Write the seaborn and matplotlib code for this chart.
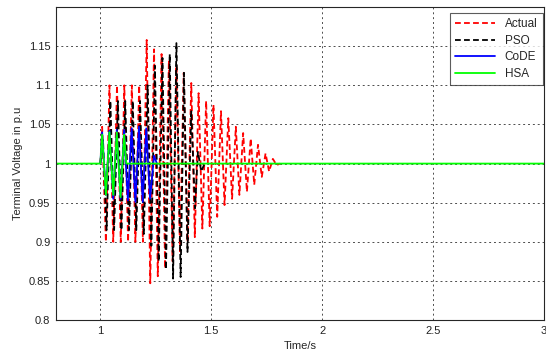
import numpy as np
import pandas as pd
import matplotlib
matplotlib.use("Agg")
import matplotlib.pyplot as plt
import seaborn as sns

# extrema of each response (time in s, voltage in p.u)
actual_t = [1.0, 1.008, 1.025, 1.041, 1.058, 1.075, 1.092, 1.108, 1.125, 1.142, 1.158,
            1.175, 1.192, 1.209, 1.225, 1.242, 1.259, 1.276, 1.292, 1.309, 1.326, 1.343,
            1.359, 1.376, 1.393, 1.410, 1.426, 1.443, 1.460, 1.477, 1.493, 1.510, 1.527,
            1.544, 1.560, 1.577, 1.594, 1.611, 1.627, 1.644, 1.661, 1.678, 1.694, 1.711,
            1.728, 1.745, 1.761, 1.778, 1.795, 1.81]
actual_v = [1.0, 1.047, 0.900, 1.100, 0.900, 1.100, 0.900, 1.100, 0.900, 1.100, 0.900,
            1.100, 0.900, 1.158, 0.847, 1.146, 0.856, 1.140, 0.866, 1.132, 0.875, 1.125,
            0.888, 1.116, 0.900, 1.103, 0.906, 1.090, 0.917, 1.080, 0.920, 1.075, 0.932,
            1.067, 0.947, 1.058, 0.955, 1.047, 0.960, 1.039, 0.964, 1.032, 0.973, 1.024,
            0.983, 1.013, 0.990, 1.006, 0.998, 1.0]

pso_t = [1.0, 1.012, 1.028, 1.045, 1.062, 1.079, 1.095, 1.112, 1.129, 1.146, 1.162,
         1.179, 1.196, 1.213, 1.230, 1.246, 1.263, 1.280, 1.296, 1.313, 1.328, 1.343,
         1.362, 1.377, 1.393, 1.410, 1.427, 1.440, 1.455, 1.47]
pso_v = [1.0, 1.03, 0.915, 1.08, 0.915, 1.08, 0.915, 1.08, 0.915, 1.08, 0.915,
         1.08, 0.91, 1.10, 0.895, 1.125, 0.875, 1.135, 0.865, 1.14, 0.853, 1.154,
         0.855, 1.116, 0.887, 1.067, 0.943, 1.015, 0.99, 1.0]

code_t = [1.0, 1.008, 1.025, 1.041, 1.058, 1.074, 1.091, 1.107, 1.124, 1.141, 1.158,
          1.174, 1.191, 1.207, 1.224, 1.242, 1.255]
code_v = [1.0, 1.040, 0.960, 1.042, 0.955, 1.043, 0.955, 1.043, 0.953, 1.045, 0.951,
          1.047, 0.951, 1.045, 0.955, 1.010, 1.0]

hsa_t = [0.8, 1.0, 1.008, 1.025, 1.041, 1.058, 1.074, 1.091, 1.107, 1.117, 3.0]
hsa_v = [1.0, 1.0, 1.037, 0.960, 1.040, 0.960, 1.040, 0.957, 1.037, 1.0, 1.0]

x_ticks = [1, 1.5, 2, 2.5, 3]
y_ticks = [0.8, 0.85, 0.9, 0.95, 1, 1.05, 1.1, 1.15]

sns.set_style("white")
plt.rcParams['font.family'] = ['Liberation Sans', 'DejaVu Sans']

fig = plt.figure(figsize=(5.46, 3.56), dpi=100)
ax = fig.add_axes([0.1026, 0.101, 0.8934, 0.879])

dash = (0, (3.2, 1.8))
series = [
    ("Actual", actual_t, actual_v, "#ff0000", dash),
    ("PSO", pso_t, pso_v, "#000000", dash),
    ("CoDE", code_t, code_v, "#0000ff", "-"),
    ("HSA", hsa_t, hsa_v, "#00ff00", "-"),
]
for name, t, v, col, ls in series:
    df = pd.DataFrame({"t": t, "v": v})
    sns.lineplot(data=df, x="t", y="v", ax=ax, color=col, linestyle=ls,
                 linewidth=1.3, sort=False, label=name)

ax.set_xlim(0.8, 3.0)
ax.set_ylim(0.8, 1.2)
ax.set_xticks(x_ticks)
ax.set_xticklabels(["1", "1.5", "2", "2.5", "3"])
ax.set_yticks(y_ticks)
ax.set_yticklabels(["0.8", "0.85", "0.9", "0.95", "1", "1.05", "1.1", "1.15"])
ax.grid(True, color="0.3", linestyle=(0, (2, 3)), linewidth=0.7)
ax.tick_params(direction="in", length=3, labelsize=8, colors="#222222", pad=4)
for s in ax.spines.values():
    s.set_color("0.15")
    s.set_linewidth(0.8)
    s.set_visible(True)

ax.set_xlabel("Time/s", fontsize=8, labelpad=4)
ax.set_ylabel("Terminal Voltage in p.u", fontsize=8, labelpad=4)

leg = ax.legend(loc="upper right", fontsize=8.5, frameon=True, fancybox=False,
                handlelength=3.4, borderpad=0.45, labelspacing=0.38,
                borderaxespad=0, bbox_to_anchor=(0.998, 0.981))
leg.get_frame().set_edgecolor("0.2")
leg.get_frame().set_linewidth(0.8)

fig.savefig("out.png", dpi=100)
